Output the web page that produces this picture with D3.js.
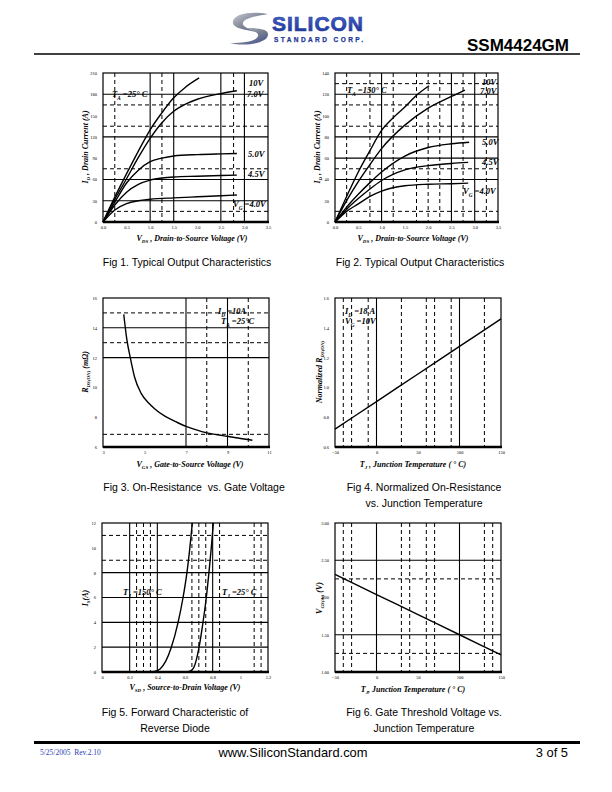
<!DOCTYPE html>
<html><head><meta charset="utf-8">
<script src="https://cdn.jsdelivr.net/npm/d3@7"></script>
<style>body{margin:0;background:#fff}svg{display:block}</style>
</head><body>
<svg id="page" width="612" height="792"></svg>
<script>
// ---------------- DATA ----------------
// Fig 1 : Typical output characteristics, TA = 25 °C  [VDS (V), ID (A)]
const fig1_10V = [[0,0],[0.25,35],[0.5,68],[0.75,100],[1.0,130],[1.25,154],[1.5,175],[1.75,190],[2.04,203]];
const fig1_7V  = [[0,0],[0.25,32],[0.5,61],[0.75,91],[1.0,118],[1.25,140],[1.5,156],[1.75,166],[2.0,173],[2.5,181],[2.84,185]];
const fig1_5V  = [[0,0],[0.25,28],[0.5,55],[0.75,73],[1.0,85],[1.25,90],[1.5,93],[2.0,95],[2.5,96],[2.84,96.5]];
const fig1_45V = [[0,0],[0.25,24],[0.5,42],[0.75,53],[1.0,59],[1.25,62],[1.5,63.5],[2.0,64.5],[2.5,65.5],[2.84,66]];
const fig1_4V  = [[0,0],[0.25,17],[0.5,26],[0.75,30],[1.0,32],[1.5,34],[2.0,35.5],[2.5,37],[2.84,38]];
const fig1_xTicks = [0,0.5,1,1.5,2,2.5,3,3.5];
const fig1_yTicks = [0,30,60,90,120,150,180,210];

// Fig 2 : Typical output characteristics, TA = 150 °C
const fig2_10V = [[0,0],[0.25,24],[0.5,47],[0.75,67],[1.0,86],[1.25,98],[1.5,108],[1.75,119],[2.02,128]];
const fig2_7V  = [[0,0],[0.25,20],[0.5,38],[0.75,54],[1.0,69],[1.5,91],[2.0,107],[2.5,118],[2.79,124]];
const fig2_5V  = [[0,0],[0.25,14],[0.5,26],[0.75,37],[1.0,47],[1.5,62],[2.0,70],[2.5,73.5],[2.88,75]];
const fig2_45V = [[0,0],[0.25,12],[0.5,22],[0.75,31],[1.0,39],[1.5,49],[2.0,53],[2.5,55],[2.86,56]];
const fig2_4V  = [[0,0],[0.25,10],[0.5,17],[0.75,24],[1.0,29],[1.5,34],[2.0,35.5],[2.5,36],[2.86,36.5]];
const fig2_xTicks = [0,0.5,1,1.5,2,2.5,3,3.5];
const fig2_yTicks = [0,20,40,60,80,100,120,140];

// Fig 3 : On-resistance vs gate voltage  [VGS (V), RDS(ON) (mΩ)]
const fig3_rds = [[4.0,14.9],[4.15,13.2],[4.33,11.9],[4.52,10.7],[4.84,9.6],[5.2,8.95],[5.5,8.55],[6.0,8.05],[6.5,7.7],[7.0,7.38],[7.5,7.15],[8.0,6.95],[8.5,6.82],[9.0,6.72],[9.5,6.6],[10.2,6.45]];
const fig3_xTicks = [3,5,7,9,11];
const fig3_yTicks = [6,8,10,12,14,16];

// Fig 4 : Normalized RDS(ON) vs junction temperature
const fig4_norm = [[-50,0.72],[0,0.905],[50,1.09],[100,1.275],[150,1.46]];
const fig4_xTicks = [-50,0,50,100,150];
const fig4_yTicks = [0.6,0.8,1.0,1.2,1.4,1.6];

// Fig 5 : Forward characteristic of reverse diode [VSD (V), IS (A)]
const fig5_150C = [[0.34,0],[0.38,0.05],[0.42,0.25],[0.46,0.85],[0.50,1.95],[0.55,4],[0.586,6],[0.614,8],[0.635,10],[0.653,12]];
const fig5_25C  = [[0.60,0],[0.63,0.05],[0.66,0.3],[0.68,0.9],[0.70,1.9],[0.73,4],[0.754,6],[0.773,8],[0.79,10],[0.805,12]];
const fig5_xTicks = [0,0.2,0.4,0.6,0.8,1,1.2];
const fig5_yTicks = [0,2,4,6,8,10,12];

// Fig 6 : Gate threshold voltage vs junction temperature
const fig6_vth = [[-50,2.31],[0,2.04],[50,1.77],[100,1.50],[150,1.23]];
const fig6_xTicks = [-50,0,50,100,150];
const fig6_yTicks = [1.0,1.5,2.0,2.5,3.0];

// ---------------- DRAWING ----------------
const svg = d3.select("#page");
const SERIF = "'Liberation Serif','Times New Roman',serif";
const SANS = "'Liberation Sans',Arial,Helvetica,sans-serif";

function rich(g, x, y, parts, size, anchor, rotate) {
  const t = g.append("text").attr("x", x).attr("y", y)
    .attr("font-family", SERIF).attr("font-weight", "bold").attr("font-style", "italic")
    .attr("font-size", size).attr("text-anchor", anchor || "start");
  if (rotate) t.attr("transform", `rotate(-90,${x},${y})`);
  let shift = 0;
  parts.forEach(p => {
    if (typeof p === "string") {
      t.append("tspan").attr("dy", -shift).text(p); shift = 0;
    } else {
      const s = size * 0.3;
      t.append("tspan").attr("dy", s - shift).attr("font-size", size * 0.62).text(p.sub); shift = s;
    }
  });
  return t;
}

function panel(o) {
  const g = svg.append("g");
  const x = d3.scaleLinear().domain(o.xd).range([o.l, o.r]);
  const y = d3.scaleLinear().domain(o.yd).range([o.b, o.t]);
  const grid = g.append("g").attr("stroke", "#000");
  (o.vs || []).forEach(v => grid.append("line").attr("x1", x(v)).attr("x2", x(v)).attr("y1", o.t).attr("y2", o.b).attr("stroke-width", 1.1));
  (o.vd || []).forEach(v => grid.append("line").attr("x1", x(v)).attr("x2", x(v)).attr("y1", o.t).attr("y2", o.b).attr("stroke-width", 1).attr("stroke-dasharray", "4,3"));
  (o.hs || []).forEach(v => grid.append("line").attr("y1", y(v)).attr("y2", y(v)).attr("x1", o.l).attr("x2", o.r).attr("stroke-width", 1.1));
  (o.hd || []).forEach(v => grid.append("line").attr("y1", y(v)).attr("y2", y(v)).attr("x1", o.l).attr("x2", o.r).attr("stroke-width", 1).attr("stroke-dasharray", "4,3"));
  g.append("rect").attr("x", o.l).attr("y", o.t).attr("width", o.r - o.l).attr("height", o.b - o.t)
    .attr("fill", "none").attr("stroke", "#000").attr("stroke-width", 1.2);
  g.append("line").attr("x1", o.l).attr("x2", o.r + 1).attr("y1", o.b).attr("y2", o.b).attr("stroke", "#000").attr("stroke-width", 2.6);

  const ax = g.append("g").attr("transform", `translate(0,${o.b + 2})`)
    .call(d3.axisBottom(x).tickValues(o.xt).tickFormat(o.xf || d3.format("")).tickSize(0).tickPadding(2));
  ax.select(".domain").remove();
  ax.selectAll("text").attr("font-family", SERIF).attr("font-size", 4.5).attr("fill", "#000");
  const ay = g.append("g").attr("transform", `translate(${o.l - 4},0)`)
    .call(d3.axisLeft(y).tickValues(o.yt).tickFormat(o.yf || d3.format("")).tickSize(0).tickPadding(2));
  ay.select(".domain").remove();
  ay.selectAll("text").attr("font-family", SERIF).attr("font-size", 4.5).attr("fill", "#000");

  const line = d3.line().x(d => x(d[0])).y(d => y(d[1])).curve(d3.curveMonotoneX);
  (o.series || []).forEach(s => g.append("path").datum(s).attr("d", line)
    .attr("fill", "none").attr("stroke", "#000").attr("stroke-width", 1.4));
  return { g, x, y };
}

// ---- header ----
const defs = svg.append("defs");
const lg = defs.append("linearGradient").attr("id", "sw").attr("x1", 0).attr("y1", 0).attr("x2", 1).attr("y2", 1);
lg.append("stop").attr("offset", "0").attr("stop-color", "#c9ccd3");
lg.append("stop").attr("offset", "0.5").attr("stop-color", "#7d8494");
lg.append("stop").attr("offset", "1").attr("stop-color", "#3c4a8c");
const lg2 = defs.append("linearGradient").attr("id", "tx").attr("x1", 0).attr("y1", 0).attr("x2", 0).attr("y2", 1);
lg2.append("stop").attr("offset", "0").attr("stop-color", "#4a6ad0");
lg2.append("stop").attr("offset", "1").attr("stop-color", "#1a2f8f");

const hdr = svg.append("g");
hdr.append("path").attr("fill", "url(#sw)")
  .attr("d", "M268,14 C252,11 235,13 233,21 C231,29 248,30 257,32 C250,29 242,27 243,23 C244,18 257,16 268,14 Z");
hdr.append("path").attr("fill", "url(#sw)")
  .attr("d", "M230,43 C246,47 267,43 268,35 C269,28 255,28 246,28 C253,31 259,32 258,36 C257,41 244,43 230,43 Z");
hdr.append("text").attr("x", 272).attr("y", 31).attr("font-family", SANS).attr("font-weight", "bold")
  .attr("font-size", 21).attr("fill", "url(#tx)").attr("stroke", "#2a45a8").attr("stroke-width", 0.7)
  .attr("textLength", 91).text("SILICON");
hdr.append("text").attr("x", 274).attr("y", 41.5).attr("font-family", SANS).attr("font-weight", "bold")
  .attr("font-size", 6.5).attr("fill", "#22379a").attr("stroke", "#22379a").attr("stroke-width", 0.25)
  .attr("textLength", 89).text("STANDARD CORP.");
hdr.append("text").attr("x", 569).attr("y", 51).attr("text-anchor", "end").attr("font-family", SANS)
  .attr("font-weight", "bold").attr("font-size", 17).attr("fill", "#000").text("SSM4424GM");
hdr.append("line").attr("x1", 34).attr("x2", 580).attr("y1", 54).attr("y2", 54).attr("stroke", "#000").attr("stroke-width", 1.4);

// ---- footer ----
const ftr = svg.append("g");
ftr.append("line").attr("x1", 34).attr("x2", 580).attr("y1", 742.5).attr("y2", 742.5).attr("stroke", "#000").attr("stroke-width", 3);
ftr.append("text").attr("x", 40).attr("y", 755).attr("font-family", SERIF).attr("font-size", 7.5).attr("fill", "#2b3cb0")
  .text("5/25/2005\u00a0\u00a0Rev.2.10");
ftr.append("text").attr("x", 293).attr("y", 757).attr("text-anchor", "middle").attr("font-family", SANS).attr("font-size", 12.9).attr("fill", "#000").text("www.SiliconStandard.com");
ftr.append("text").attr("x", 568).attr("y", 757).attr("text-anchor", "end").attr("font-family", SANS).attr("font-size", 12.9).attr("fill", "#000").text("3 of 5");

function caption(x, y, lines) {
  lines.forEach((s, i) => svg.append("text").attr("x", x).attr("y", y + i * 15.5).attr("text-anchor", "middle")
    .attr("font-family", SANS).attr("font-size", 10.5).attr("fill", "#000").text(s));
}

const TS = 8; // axis title size
const LS = 8.5; // in-plot label size

// ---- Fig 1 ----
const p1 = panel({ l: 103, r: 268, t: 73, b: 222, xd: [0, 3.5], yd: [0, 210],
  vs: [1.0, 1.5, 2.5, 3.0], vd: [0.25, 1.25, 2.77], hs: [180, 120, 60, 30], hd: [165, 135, 75, 15],
  xt: fig1_xTicks, yt: fig1_yTicks, xf: d3.format(".1f"),
  series: [fig1_10V, fig1_7V, fig1_5V, fig1_45V, fig1_4V] });
rich(p1.g, 112, 97, ["T", { sub: "A" }, " =25° C"], LS);
rich(p1.g, 249, 86, ["10V"], LS);
rich(p1.g, 247, 97, ["7.0V"], LS);
rich(p1.g, 248, 157, ["5.0V"], LS);
rich(p1.g, 248, 177, ["4.5V"], LS);
rich(p1.g, 233, 207, ["V", { sub: "G" }, " =4.0V"], LS);
rich(p1.g, 192, 241, ["V", { sub: "DS" }, " , Drain-to-Source Voltage (V)"], TS, "middle");
rich(p1.g, 88, 147, ["I", { sub: "D" }, " , Drain Current (A)"], TS, "middle", true);
caption(187, 266, ["Fig 1. Typical Output Characteristics"]);

// ---- Fig 2 ----
const p2 = panel({ l: 335, r: 498, t: 73, b: 222, xd: [0, 3.5], yd: [0, 140],
  vs: [1.0, 2.5, 3.0], vd: [0.25, 0.75, 1.25, 1.75, 2.0, 2.25, 2.75, 3.25], hs: [120, 80, 60, 40], hd: [130, 110, 90, 50, 10],
  xt: fig2_xTicks, yt: fig2_yTicks, xf: d3.format(".1f"),
  series: [fig2_10V, fig2_7V, fig2_5V, fig2_45V, fig2_4V] });
rich(p2.g, 347, 93, ["T", { sub: "A" }, " =150° C"], LS);
rich(p2.g, 482, 85, ["10V"], LS);
rich(p2.g, 480, 94, ["7.0V"], LS);
rich(p2.g, 482, 145, ["5.0V"], LS);
rich(p2.g, 482, 165, ["4.5V"], LS);
rich(p2.g, 463, 194, ["V", { sub: "G" }, " =4.0V"], LS);
rich(p2.g, 413, 241, ["V", { sub: "DS" }, " , Drain-to-Source Voltage (V)"], TS, "middle");
rich(p2.g, 320, 147, ["I", { sub: "D" }, " , Drain Current (A)"], TS, "middle", true);
caption(420, 266, ["Fig 2. Typical Output Characteristics"]);

// ---- Fig 3 ----
const p3 = panel({ l: 103, r: 269, t: 298, b: 447, xd: [3, 11], yd: [6, 16],
  vs: [7, 9], vd: [8, 10], hs: [14, 12], hd: [15, 13, 6.85],
  xt: fig3_xTicks, yt: fig3_yTicks, series: [fig3_rds] });
rich(p3.g, 218, 314, ["I", { sub: "D" }, " =10A"], LS);
rich(p3.g, 221, 324, ["T", { sub: "A" }, " =25°C"], LS);
rich(p3.g, 190, 467, ["V", { sub: "GS" }, " , Gate-to-Source Voltage (V)"], TS, "middle");
rich(p3.g, 88, 372, ["R", { sub: "DS(ON)" }, " (mΩ)"], TS, "middle", true);
caption(194, 491, ["Fig 3. On-Resistance\u00a0\u00a0vs. Gate Voltage"]);

// ---- Fig 4 ----
const p4 = panel({ l: 335, r: 501, t: 298, b: 447, xd: [-50, 150], yd: [0.6, 1.6],
  vs: [0, 100], vd: [-40, -30, -10, 30, 60, 70, 90, 130],
  xt: fig4_xTicks, yt: fig4_yTicks, yf: d3.format(".1f"), series: [fig4_norm] });
rich(p4.g, 345, 314, ["I", { sub: "D" }, " =18 A"], LS);
rich(p4.g, 345, 324, ["V", { sub: "G" }, " =10V"], LS);
rich(p4.g, 413, 467, ["T", { sub: "J" }, " , Junction Temperature ( ° C)"], TS, "middle");
rich(p4.g, 322, 372, ["Normalized R", { sub: "DS(ON)" }], TS, "middle", true);
caption(424, 491, ["Fig 4. Normalized On-Resistance", "vs. Junction Temperature"]);

// ---- Fig 5 ----
const p5 = panel({ l: 102, r: 268, t: 523, b: 672, xd: [0, 1.2], yd: [0, 12],
  vs: [0.2, 0.4, 0.8], vd: [0.25, 0.3, 0.35, 0.65, 0.7, 0.75, 0.85, 1.1, 1.15], hs: [8, 6, 4, 2], hd: [11, 9],
  xt: fig5_xTicks, yt: fig5_yTicks, series: [fig5_150C, fig5_25C] });
rich(p5.g, 123, 595, ["T", { sub: "J" }, " =150° C"], LS);
rich(p5.g, 222, 595, ["T", { sub: "J" }, " =25° C"], LS);
rich(p5.g, 185, 690, ["V", { sub: "SD" }, " , Source-to-Drain Voltage (V)"], TS, "middle");
rich(p5.g, 88, 598, ["I", { sub: "S" }, "(A)"], TS, "middle", true);
caption(175, 716, ["Fig 5. Forward Characteristic of", "Reverse Diode"]);

// ---- Fig 6 ----
const p6 = panel({ l: 335, r: 501, t: 523, b: 672, xd: [-50, 150], yd: [1.0, 3.0],
  vs: [0, 100], vd: [-40, -30, 30, 40, 60, 70, 130, 140], hs: [2.5, 1.5], hd: [2.25, 1.25],
  xt: fig6_xTicks, yt: fig6_yTicks, yf: d3.format(".2f"), series: [fig6_vth] });
rich(p6.g, 413, 692, ["T", { sub: "J" }, ", Junction Temperature ( ° C)"], TS, "middle");
rich(p6.g, 322, 598, ["V", { sub: "GS(th)" }, " (V)"], TS, "middle", true);
caption(424, 716, ["Fig 6. Gate Threshold Voltage vs.", "Junction Temperature"]);
</script>
</body></html>
